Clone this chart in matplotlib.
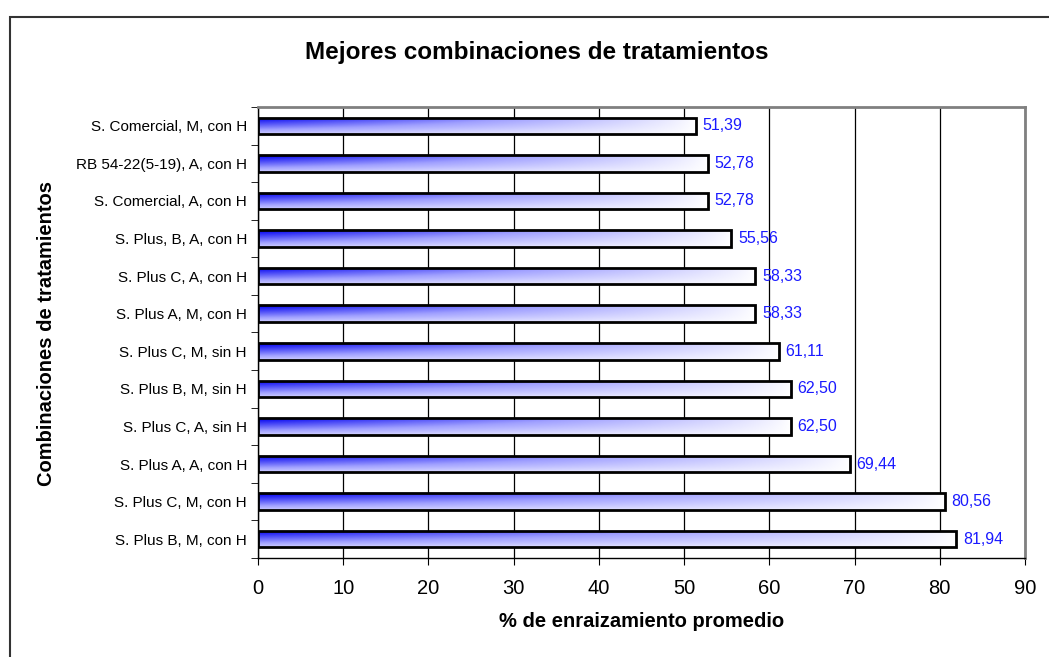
import numpy as np
import matplotlib.pyplot as plt
from matplotlib.patches import Rectangle
from matplotlib.colors import LinearSegmentedColormap

# bottom-to-top order (as drawn on the y axis)
categories = [
    "S. Plus B, M, con H",
    "S. Plus C, M, con H",
    "S. Plus A, A, con H",
    "S. Plus C, A, sin H",
    "S. Plus B, M, sin H",
    "S. Plus C, M, sin H",
    "S. Plus A, M, con H",
    "S. Plus C, A, con H",
    "S. Plus, B, A, con H",
    "S. Comercial, A, con H",
    "RB 54-22(5-19), A, con H",
    "S. Comercial, M, con H",
]
values = [81.94, 80.56, 69.44, 62.50, 62.50, 61.11, 58.33, 58.33, 55.56, 52.78, 52.78, 51.39]
value_labels = ["81,94", "80,56", "69,44", "62,50", "62,50", "61,11",
                "58,33", "58,33", "55,56", "52,78", "52,78", "51,39"]
xticks = [0, 10, 20, 30, 40, 50, 60, 70, 80, 90]

W, H = 1049, 657
fig = plt.figure(figsize=(W / 100, H / 100), dpi=100)
ax = fig.add_axes([258 / W, 1 - 558 / H, (1025 - 258) / W, (558 - 107) / H])

# outer chart frame
fig.patches.append(Rectangle((10 / W, -0.1), 1.2, 1 - 17 / H + 0.1,
                             transform=fig.transFigure, fill=False,
                             edgecolor="#333333", linewidth=1.5))

# gradient: blue at left/top, fading to white to the right and bottom
nx, ny = 256, 32
gx = np.linspace(0, 1, nx)[None, :]
gy = np.linspace(0, 1, ny)[:, None]
strength = (1 - gx) ** 0.75 * (0.25 + 0.75 * gy ** 0.8)
strength = np.clip(strength, 0, 1)
cmap = LinearSegmentedColormap.from_list("bw", ["#ffffff", "#a0a0ff", "#0000f0"])

bar_h = 0.44
bars = ax.barh(range(len(categories)), values, height=bar_h, color="none",
               edgecolor="black", linewidth=2, zorder=3)
for i, (b, v) in enumerate(zip(bars, values)):
    im = ax.imshow(strength, cmap=cmap, vmin=0, vmax=1, aspect="auto",
                   extent=[0, v, i - bar_h / 2, i + bar_h / 2],
                   origin="lower", zorder=2, interpolation="bilinear")
    im.set_clip_path(b)
    ax.text(v + 0.8, i, value_labels[i], color="#1a1aff", fontsize=11.5,
            va="center", ha="left", family="Liberation Sans")
ax.set_xlim(0, 90)
ax.set_ylim(-0.5, len(categories) - 0.5)

ax.set_xticks(xticks)
ax.set_xticklabels([str(t) for t in xticks], fontsize=14.5, family="Liberation Sans")
ax.set_yticks(range(len(categories)))
ax.set_yticklabels(categories, fontsize=11, family="Liberation Sans")
ax.tick_params(axis="y", length=0, pad=8)
ax.set_yticks(np.arange(-0.5, len(categories), 1), minor=True)
ax.tick_params(axis="y", which="minor", length=5, direction="out")
ax.tick_params(axis="x", length=5, direction="out", pad=10)

ax.xaxis.grid(True, color="black", linewidth=0.9)
ax.set_axisbelow(True)
for s in ("top", "right"):
    ax.spines[s].set_color("#808080")
    ax.spines[s].set_linewidth(2)
for s in ("left", "bottom"):
    ax.spines[s].set_color("black")
    ax.spines[s].set_linewidth(1)

ax.set_xlabel("% de enraizamiento promedio", fontsize=14.5, fontweight="bold",
              family="Liberation Sans", labelpad=10)
fig.text(47 / W, 1 - 333 / H, "Combinaciones de tratamientos", rotation=90,
         fontsize=14.5, fontweight="bold", family="Liberation Sans",
         ha="center", va="center")
fig.text(537 / W, 1 - 53 / H, "Mejores combinaciones de tratamientos",
         fontsize=17.5, fontweight="bold", family="Liberation Sans",
         ha="center", va="center")

fig.savefig("out.png", dpi=100)
